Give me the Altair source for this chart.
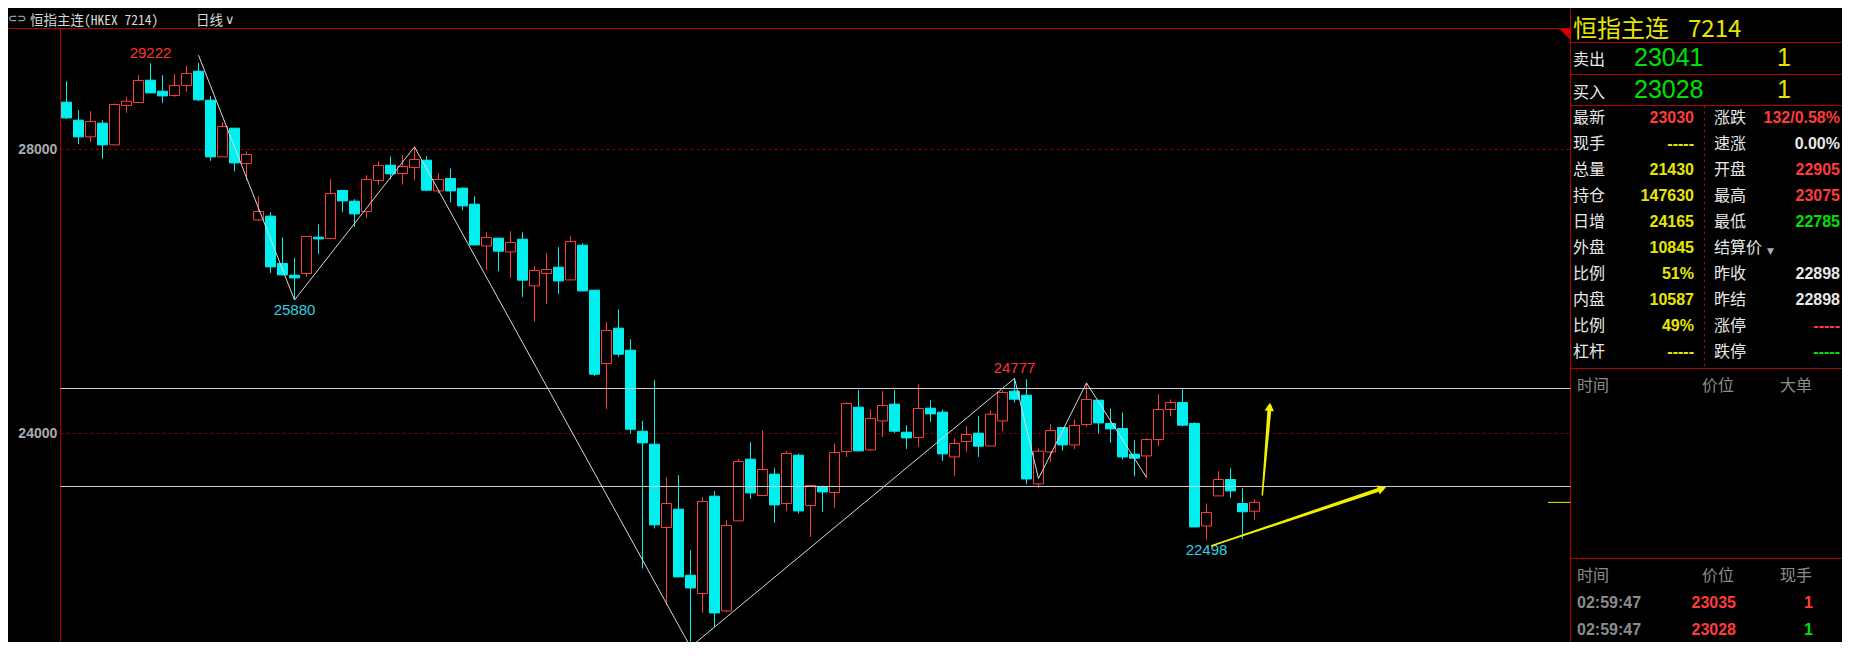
import math
import altair as alt
import pandas as pd

# ---------------- daily candles (恒指主连 7214) ----------------
opens = [28666, 28413, 28178, 28371, 28065, 28620, 28662, 28976, 28821, 28761,
         28902, 29103, 28695, 27896, 28300, 27803, 27008, 27061, 26394, 26230,
         26254, 26765, 26747, 27423, 27272, 27127, 27564, 27779, 27662, 27747,
         27849, 27417, 27592, 27455, 27230, 26642, 26751, 26558, 26737, 26079,
         26254, 26342, 26163, 26652, 26018, 24986, 25483, 25173, 24032, 23849,
         22676, 22934, 22004, 21746, 23117, 21501, 22769, 23638, 23127, 23427,
         23014, 23694, 22986, 23248, 23169, 23746, 24370, 23769, 24177, 24413,
         24018, 23944, 24356, 24300, 23670, 23887, 24004, 23825, 24177, 24596,
         24539, 23290, 23741, 24084, 23839, 24127, 24469, 24141, 24070, 23708,
         23684, 23915, 24338, 24437, 24141, 22698, 23121, 23352, 23014, 22905]
highs = [28962, 28554, 28540, 28413, 28648, 28737, 29047, 29215, 29047, 29061,
         29178, 29222, 28755, 28385, 28300, 27976, 27342, 27117, 26765, 26473,
         26775, 26948, 27582, 27423, 27300, 27638, 27831, 27902, 27920, 28037,
         27906, 27666, 27732, 27465, 27342, 26835, 26751, 26849, 26835, 26356,
         26540, 26624, 26779, 26680, 26018, 25568, 25751, 25328, 24177, 24751,
         23384, 23413, 22356, 23103, 23187, 22779, 23642, 23877, 24046, 23511,
         23755, 23718, 23268, 23268, 23859, 24441, 24610, 24342, 24596, 24610,
         24117, 24694, 24469, 24338, 23930, 24103, 24244, 24328, 24610, 24777,
         24765, 23789, 24131, 24084, 24197, 24713, 24469, 24352, 24296, 23906,
         23934, 24553, 24479, 24624, 24155, 23014, 23469, 23511, 23230, 23075]
lows = [28431, 28075, 28107, 27868, 28065, 28516, 28662, 28797, 28656, 28741,
        28811, 28680, 27840, 27896, 27694, 27568, 26990, 26262, 26225, 25880,
        26206, 26525, 26747, 27117, 26910, 27037, 27507, 27582, 27507, 27568,
        27413, 27380, 27254, 27145, 26656, 26300, 26286, 26192, 25924, 25572,
        25825, 25962, 26163, 26008, 24811, 24346, 25079, 24000, 22098, 22662,
        21582, 21980, 20994, 21473, 21276, 21487, 22769, 23079, 23127, 22741,
        22910, 22873, 22544, 22896, 22952, 23670, 23755, 23755, 23952, 24008,
        23783, 23811, 24163, 23614, 23403, 23741, 23670, 23825, 24037, 24437,
        23286, 23234, 23600, 23755, 23783, 24093, 24000, 23868, 23634, 23398,
        23380, 23821, 24244, 24103, 22684, 22498, 23121, 23093, 22511, 22785]
closes = [28445, 28178, 28395, 28065, 28634, 28680, 28972, 28797, 28755, 28902,
          29071, 28699, 27896, 28324, 27811, 27930, 27127, 26347, 26234, 26192,
          26775, 26741, 27380, 27276, 27093, 27578, 27775, 27656, 27761, 27859,
          27427, 27578, 27417, 27206, 26656, 26761, 26568, 26690, 26159, 26296,
          26310, 26149, 26704, 26008, 24835, 25451, 25117, 24060, 23868, 22713,
          23014, 21980, 21825, 23042, 21473, 22704, 23606, 23163, 23493, 22994,
          23718, 22910, 23268, 23177, 23732, 24422, 23755, 24211, 24394, 24032,
          23938, 24352, 24276, 23713, 23859, 23986, 23821, 24272, 24577, 24483,
          23360, 23751, 24042, 23839, 24113, 24479, 24149, 24065, 23670, 23652,
          23915, 24338, 24437, 24117, 22684, 22887, 23352, 23191, 22898, 23030]

# zigzag (white swing line)
zig_idx = [11, 19, 29, 52, 79, 81, 85, 90]
zig_price = [29328, 25880, 28037, 20994, 24777, 23366, 24713, 23380]

# swing labels
high_idx = [7, 79]
high_text = ["29222", "24777"]
high_price = [29222, 24777]
low_idx = [19, 95]
low_text = ["25880", "22498"]
low_price = [25880, 22498]

grid_levels = [28000, 24000]
level_lines = [24634, 23254]
last_price = 23030

# hand-drawn yellow arrows (start index/price -> tip index/price)
arrow_start_i = [99.65, 95.43]
arrow_start_p = [23134, 22420]
arrow_end_i = [100.29, 109.96]
arrow_end_p = [24434, 23242]

# right quote panel
title_name, title_code = "恒指主连", "7214"
ask_label, ask_price, ask_qty = "卖出", "23041", "1"
bid_label, bid_price, bid_qty = "买入", "23028", "1"
left_labels = ["最新", "现手", "总量", "持仓", "日增", "外盘", "比例", "内盘", "比例", "杠杆"]
left_values = ["23030", "-----", "21430", "147630", "24165", "10845", "51%", "10587", "49%", "-----"]
left_kinds = ["up", "y", "y", "y", "y", "y", "y", "y", "y", "y"]
right_labels = ["涨跌", "速涨", "开盘", "最高", "最低", "结算价", "昨收", "昨结", "涨停", "跌停"]
right_values = ["132/0.58%", "0.00%", "22905", "23075", "22785", "", "22898", "22898", "-----", "-----"]
right_kinds = ["up", "w", "up", "up", "dn", "w", "w", "w", "up", "dn"]
big_header = ["时间", "价位", "大单"]
tick_header = ["时间", "价位", "现手"]
tick_time = ["02:59:47", "02:59:47"]
tick_price = ["23035", "23028"]
tick_qty = ["1", "1"]
tick_qty_kind = ["up", "dn"]

# ---------------- styles ----------------
CJK = "Noto Sans CJK SC"
MONO = "Noto Sans Mono CJK SC, Noto Sans CJK SC"
SANS = "Liberation Sans, Arial, sans-serif"
NARROW = "Liberation Sans Narrow, Liberation Sans, sans-serif"
CYAN = "#00f0f0"
RED = "#ff3c3c"
LRED = "#ff3232"
LCYAN = "#30d0e0"
FRAME = "#b40000"
GRID = "#8c0000"
WLINE = "#d2d2d2"
ZIG = "#d8d8d8"
YEL = "#f0f000"
PYEL = "#e6e600"
GREEN = "#00e000"
WHITE = "#e8e8e8"
GRAY = "#a8acb0"
HGRAY = "#8c8c8c"
KC = {"up": RED, "dn": GREEN, "y": PYEL, "w": WHITE}

W, H = 1834, 634
HEAD_Y = 20.5
IDX_L, IDX_R = -0.5, 125.33
PX_I = 12.0
P_LO, P_HI = 21063.4, 29809.9
XS = alt.Scale(domain=[0, 99], range=[58.5, 1246.5], nice=False, zero=False)
YS = alt.Scale(domain=[P_LO, P_HI], range=[634, 13], nice=False, zero=False)
PX_P = (634 - 13) / (P_HI - P_LO)


def X(f):
    return alt.X(f, scale=XS, axis=None)


def Y(f):
    return alt.Y(f, scale=YS, axis=None)


one = pd.DataFrame({"k": [0]})


def txt(s, x, y, color, size, font=CJK, align="left", baseline="middle", weight="normal"):
    return alt.Chart(one).mark_text(text=s, color=color, fontSize=size, font=font, align=align,
                                    baseline=baseline, fontWeight=weight).encode(
        x=alt.value(x), y=alt.value(y))


def hrule(y, x1, x2, color, dash=None):
    kw = dict(color=color, strokeWidth=1)
    if dash:
        kw["strokeDash"] = dash
    return alt.Chart(one).mark_rule(**kw).encode(x=alt.value(x1), x2=alt.value(x2), y=alt.value(y))


def vrule(x, y1, y2, color, dash=None):
    kw = dict(color=color, strokeWidth=1)
    if dash:
        kw["strokeDash"] = dash
    return alt.Chart(one).mark_rule(**kw).encode(x=alt.value(x), y=alt.value(y1), y2=alt.value(y2))


layers = []

# ---------------- frame + header ----------------
layers.append(hrule(HEAD_Y, 0, 1562.5, FRAME))
layers.append(vrule(52.5, HEAD_Y, H, FRAME))
layers.append(vrule(1562.5, 0, H, FRAME))
layers.append(txt("⊂⊃", 0, 11, "#9a9a9a", 11, font="DejaVu Sans", weight="bold"))
layers.append(txt("恒指主连(HKEX 7214)", 22, 17, "#d8d8d8", 13.5, font=MONO, baseline="alphabetic"))
layers.append(txt("日线", 188, 17, "#d8d8d8", 13.5, font=CJK, baseline="alphabetic"))
layers.append(txt("∨", 217, 12, "#d8d8d8", 13, font="DejaVu Sans"))
layers.append(alt.Chart(one).mark_point(shape="M-1,-1L1,-1L1,1Z", filled=True, color="#d00000",
                                        opacity=1, size=130).encode(x=alt.value(1557), y=alt.value(HEAD_Y + 6)))

# ---------------- price plot ----------------
gdf = pd.DataFrame({"p": grid_levels, "a": IDX_L, "b": IDX_R})
layers.append(alt.Chart(gdf).mark_rule(color=GRID, strokeDash=[3, 3], strokeWidth=1).encode(
    x=X("a:Q"), x2="b:Q", y=Y("p:Q")))
layers.append(alt.Chart(gdf).mark_text(align="right", baseline="middle", font=SANS, fontSize=14,
                                       fontWeight="bold", color=GRAY).encode(
    x=alt.value(49.3), y=Y("p:Q"), text=alt.Text("p:Q", format="d")))

cdf = pd.DataFrame({"i": list(range(len(opens))), "o": opens, "h": highs, "l": lows, "c": closes})
cdf["up"] = cdf["c"] >= cdf["o"]
cdf["top"] = cdf[["o", "c"]].max(axis=1)
cdf["bot"] = cdf[["o", "c"]].min(axis=1)
cdf["col"] = cdf["up"].map({True: RED, False: CYAN})
cdf["fillc"] = cdf["up"].map({True: "#000000", False: CYAN})
cdf["i0"] = cdf["i"] - 5 / 12
cdf["i1"] = cdf["i"] + 5 / 12

layers.append(alt.Chart(cdf).mark_rule(strokeWidth=1).encode(
    x=X("i:Q"), y=Y("l:Q"), y2="h:Q", color=alt.Color("col:N", scale=None)))
layers.append(alt.Chart(cdf).mark_rect(strokeWidth=1).encode(
    x=X("i0:Q"), x2="i1:Q", y=Y("top:Q"), y2="bot:Q",
    fill=alt.Fill("fillc:N", scale=None), stroke=alt.Stroke("col:N", scale=None)))

ldf = pd.DataFrame({"p": level_lines, "a": IDX_L, "b": IDX_R})
layers.append(alt.Chart(ldf).mark_rule(color=WLINE, strokeWidth=1).encode(
    x=X("a:Q"), x2="b:Q", y=Y("p:Q")))

zdf = pd.DataFrame({"i": zig_idx, "p": zig_price})
layers.append(alt.Chart(zdf).mark_line(color=ZIG, strokeWidth=1).encode(x=X("i:Q"), y=Y("p:Q")))

hdf = pd.DataFrame({"i": high_idx, "p": high_price, "t": high_text})
layers.append(alt.Chart(hdf).mark_text(dy=-10, color=LRED, font=NARROW, fontSize=15,
                                       baseline="middle").encode(x=X("i:Q"), y=Y("p:Q"), text="t:N"))
lodf = pd.DataFrame({"i": low_idx, "p": low_price, "t": low_text})
layers.append(alt.Chart(lodf).mark_text(dy=10, color=LCYAN, font=NARROW, fontSize=15,
                                        baseline="middle").encode(x=X("i:Q"), y=Y("p:Q"), text="t:N"))

tdf = pd.DataFrame({"p": [last_price], "a": [123.46], "b": [IDX_R]})
layers.append(alt.Chart(tdf).mark_rule(color=YEL, strokeWidth=1).encode(
    x=X("a:Q"), x2="b:Q", y=Y("p:Q")))

# arrows
head_size = 90
back = 0.433 * math.sqrt(head_size)
for k in range(len(arrow_start_i)):
    dx = (arrow_end_i[k] - arrow_start_i[k]) * PX_I
    dup = (arrow_end_p[k] - arrow_start_p[k]) * PX_P
    ln = math.hypot(dx, dup)
    ux, uu = dx / ln, dup / ln
    hi_ = arrow_end_i[k] - back * ux / PX_I
    hp_ = arrow_end_p[k] - back * uu / PX_P
    ang = math.degrees(math.atan2(dx, dup)) % 360
    adf = pd.DataFrame({"i": [arrow_start_i[k], hi_], "p": [arrow_start_p[k], hp_], "w": [1.5, 4.0]})
    layers.append(alt.Chart(adf).mark_trail(color=YEL, opacity=1).encode(
        x=X("i:Q"), y=Y("p:Q"), size=alt.Size("w:Q", scale=None, legend=None)))
    hdf2 = pd.DataFrame({"i": [hi_], "p": [hp_]})
    layers.append(alt.Chart(hdf2).mark_point(shape="triangle-up", filled=True, color=YEL, opacity=1,
                                             size=head_size, angle=ang).encode(x=X("i:Q"), y=Y("p:Q")))

# ---------------- right quote panel ----------------
for yy in [34.5, 66.5, 97.5, 360.5, 550.5]:
    layers.append(hrule(yy, 1562.5, W, FRAME))
layers.append(vrule(1696.5, 97.5, 360.5, FRAME, dash=[3, 3]))

layers.append(txt(title_name, 1565, 29, PYEL, 24, font=CJK, baseline="alphabetic"))
layers.append(txt(title_code, 1680, 29, PYEL, 24, font=CJK, baseline="alphabetic"))
layers.append(txt(ask_label, 1565, 52, WHITE, 16))
layers.append(txt(ask_price, 1626, 50, GREEN, 25, font=SANS))
layers.append(txt(ask_qty, 1769, 50, PYEL, 25, font=SANS))
layers.append(txt(bid_label, 1565, 84.5, WHITE, 16))
layers.append(txt(bid_price, 1626, 81.5, GREEN, 25, font=SANS))
layers.append(txt(bid_qty, 1769, 81.5, PYEL, 25, font=SANS))

ROW0, ROWH = 110.3, 26.0
for k in range(len(left_labels)):
    yy = ROW0 + ROWH * k
    layers.append(txt(left_labels[k], 1565, yy, WHITE, 16))
    layers.append(txt(left_values[k], 1686, yy, KC[left_kinds[k]], 16, font=SANS, align="right", weight="bold"))
    layers.append(txt(right_labels[k], 1706, yy, WHITE, 16))
    if right_values[k]:
        layers.append(txt(right_values[k], 1832, yy, KC[right_kinds[k]], 16, font=SANS, align="right",
                          weight="bold"))
layers.append(txt("▼", 1759, ROW0 + ROWH * 5 + 3, "#b0b0b0", 9, font="DejaVu Sans"))

for xx, s in zip([1569, 1694, 1772], big_header):
    layers.append(txt(s, xx, 378, HGRAY, 16))
for xx, s in zip([1569, 1694, 1772], tick_header):
    layers.append(txt(s, xx, 567.7, HGRAY, 16))
for k in range(len(tick_time)):
    yy = 594.7 + 27.3 * k
    layers.append(txt(tick_time[k], 1569, yy, HGRAY, 16, font=SANS, weight="bold"))
    layers.append(txt(tick_price[k], 1728, yy, RED, 16, font=SANS, align="right", weight="bold"))
    layers.append(txt(tick_qty[k], 1805, yy, KC[tick_qty_kind[k]], 16, font=SANS, align="right",
                      weight="bold"))

chart = alt.layer(*layers).properties(
    width=W, height=H, autosize=alt.AutoSizeParams(type="none"), padding=0
).configure(background="#000000").configure_view(stroke=None)

chart.save("out.html", embed_options={"renderer": "svg", "actions": False})
